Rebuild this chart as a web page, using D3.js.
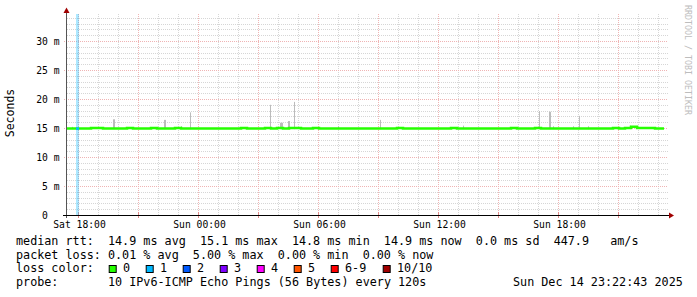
<!DOCTYPE html>
<html>
<head>
<meta charset="utf-8">
<script src="https://cdn.jsdelivr.net/npm/d3@7"></script>
<style>
html,body{margin:0;padding:0;background:#fff;}
svg{display:block;}
text{font-family:"DejaVu Sans Mono",monospace;white-space:pre;}
</style>
</head>
<body>
<svg id="chart" width="697" height="297"></svg>
<script>
// ---------------- data ----------------
// time window (local time)
const startTime = new Date(2025, 11, 13, 17, 27);
const endTime = new Date(2025, 11, 14, 23, 30);
const refTime = new Date(2025, 11, 13, 18, 0);      // hours below are offsets from Sat 18:00
const dataEndHours = 29.3;

// median rtt (ms), one value every 0.3 h starting at -0.55 h
const medianStartHours = -0.55;
const medianStepHours = 0.3;
const medianValues = [
  14.9,14.9,14.9,14.9,15.0,15.0,14.9,14.9,14.9,14.9,
  15.0,14.9,14.9,14.9,15.0,14.9,14.9,14.9,15.0,14.9,
  14.9,14.9,14.9,14.9,14.9,14.9,14.9,14.9,14.9,15.0,
  14.9,14.9,14.9,15.0,14.9,15.0,14.9,15.0,15.0,14.9,
  14.9,15.0,14.9,14.9,14.9,14.9,14.9,14.9,14.9,14.9,
  14.9,14.9,14.9,14.9,14.9,15.0,14.9,14.9,14.9,14.9,
  14.9,14.9,14.9,14.9,15.0,14.9,14.9,14.9,14.9,14.9,
  14.9,14.9,14.9,14.9,15.0,14.9,14.9,14.9,15.0,14.9,
  14.9,14.9,14.9,14.9,14.9,14.9,14.9,14.9,14.9,14.9,
  14.9,15.0,14.9,15.0,15.2,15.0,15.0,15.0,14.9,14.9
];

// smoke (max rtt of the pings) spikes: hours offset, max ms
const smokeHours = [-0.3, 1.75, 1.8, 4.3, 4.35, 5.15, 5.6, 9.6, 10.1, 10.15, 10.2, 10.5, 10.55, 10.8,
                    13.0, 15.1, 19.25, 23.05, 23.55, 23.6, 23.75, 24.75, 25.05, 25.5, 27.6];
const smokeMax =   [15.2, 16.5, 16.5, 16.4, 16.4, 15.3, 17.7, 19.0, 15.9, 15.9, 15.9, 16.2, 16.2, 19.5,
                    15.3, 16.4, 15.4, 17.9, 17.8, 17.8, 15.3, 15.3, 17.1, 15.3, 15.4];
const smokeMin = 14.8;
const smokeStepHours = 0.05;

// packet loss events
const lossHours = [-0.1];
const lossSpanHours = [0.15];
const lossCounts = [1];

// axis ticks
const yMax = 34.655;
const yMajorTicks = [0, 5, 10, 15, 20, 25, 30];
const xLabelHours = [0, 6, 12, 18, 24];

// legend
const lossLabels = ["0", "1", "2", "3", "4", "5", "6-9", "10/10"];
const lossColors = ["#26ff00", "#00b8ff", "#0059ff", "#7e00ff", "#ff00ff", "#ff5500", "#ff0000", "#a00000"];
const legendRow1 = "median rtt:  14.9 ms avg  15.1 ms max  14.8 ms min  14.9 ms now  0.0 ms sd  447.9   am/s";
const legendRow2 = "packet loss: 0.01 % avg  5.00 % max  0.00 % min  0.00 % now";
const legendRow3Title = "loss color:";
const probeTitle = "probe:";
const probeText = "10 IPv6-ICMP Echo Pings (56 Bytes) every 120s";
const dateText = "Sun Dec 14 23:22:43 2025";
const yTitle = "Seconds";
const creditText = "RRDTOOL / TOBI OETIKER";

// ---------------- drawing ----------------
const H = h => new Date(refTime.getTime() + h * 3600 * 1000);
const svg = d3.select("#chart");
const pLeft = 67, pRight = 668, pTop = 14, pBottom = 215;

const x = d3.scaleTime().domain([startTime, endTime]).range([pLeft, pRight]);
const y = d3.scaleLinear().domain([0, yMax]).range([pBottom, pTop]);

svg.append("rect").attr("width", 697).attr("height", 297).attr("fill", "#fff");

// grid
const minorCol = "#d6d6d6", majorCol = "#efb4b4";
const grid = svg.append("g");
const minorY = d3.range(1, 35).filter(v => v % 5 !== 0);
grid.selectAll(".hmin").data(minorY).join("line")
  .attr("x1", pLeft).attr("x2", pRight)
  .attr("y1", d => Math.round(y(d)) + 0.5).attr("y2", d => Math.round(y(d)) + 0.5)
  .attr("stroke", minorCol).attr("stroke-dasharray", "1,1");
const hourTicks = d3.timeHour.range(startTime, endTime);
grid.selectAll(".vmin").data(hourTicks.filter(d => d.getHours() % 3 !== 0)).join("line")
  .attr("x1", d => Math.round(x(d)) + 0.5).attr("x2", d => Math.round(x(d)) + 0.5)
  .attr("y1", pTop).attr("y2", pBottom)
  .attr("stroke", minorCol).attr("stroke-dasharray", "1,1");
grid.selectAll(".hmaj").data(yMajorTicks.filter(v => v > 0)).join("line")
  .attr("x1", pLeft - 3).attr("x2", pRight)
  .attr("y1", d => Math.round(y(d)) + 0.5).attr("y2", d => Math.round(y(d)) + 0.5)
  .attr("stroke", majorCol).attr("stroke-dasharray", "1,1");
const majX = hourTicks.filter(d => d.getHours() % 3 === 0);
grid.selectAll(".vmaj").data(majX).join("line")
  .attr("x1", d => Math.round(x(d)) + 0.5).attr("x2", d => Math.round(x(d)) + 0.5)
  .attr("y1", pTop).attr("y2", pBottom + 2)
  .attr("stroke", majorCol).attr("stroke-dasharray", "1,1");
grid.selectAll(".vtick").data(majX).join("line")
  .attr("x1", d => Math.round(x(d)) + 0.5).attr("x2", d => Math.round(x(d)) + 0.5)
  .attr("y1", pBottom - 3).attr("y2", pBottom + 3)
  .attr("stroke", "#e08a8a");

// loss bars
lossHours.forEach((h, i) => {
  svg.append("rect")
    .attr("x", x(H(h))).attr("width", x(H(h + lossSpanHours[i])) - x(H(h)))
    .attr("y", pTop).attr("height", pBottom - pTop)
    .attr("fill", lossColors[lossCounts[i]]).attr("fill-opacity", 0.32);
});

// smoke
svg.append("g").selectAll("rect").data(smokeHours).join("rect")
  .attr("x", d => x(H(d)))
  .attr("width", d => x(H(d + smokeStepHours)) - x(H(d)))
  .attr("y", (d, i) => y(smokeMax[i]))
  .attr("height", (d, i) => y(smokeMin) - y(smokeMax[i]))
  .attr("fill", "#bcbcbc");

// median line
const medPts = medianValues.map((v, i) => [H(medianStartHours + i * medianStepHours), v]);
medPts.push([H(dataEndHours), medianValues[medianValues.length - 1]]);
svg.append("path")
  .attr("d", d3.line().x(d => x(d[0])).y(d => y(d[1])).curve(d3.curveStepAfter)(medPts))
  .attr("fill", "none").attr("stroke", lossColors[0]).attr("stroke-width", 2.5);

// median during loss
lossHours.forEach((h, i) => {
  const idx = Math.floor((h - medianStartHours) / medianStepHours);
  const v = medianValues[idx];
  svg.append("rect")
    .attr("x", x(H(h))).attr("width", x(H(h + lossSpanHours[i])) - x(H(h)))
    .attr("y", y(v) - 1.25).attr("height", 2.5)
    .attr("fill", lossColors[lossCounts[i]]);
});

// axes lines
svg.append("line").attr("x1", 66.5).attr("x2", 66.5).attr("y1", 12).attr("y2", 218)
  .attr("stroke", "#555");
svg.append("line").attr("x1", 63).attr("x2", 670).attr("y1", 215.5).attr("y2", 215.5)
  .attr("stroke", "#000");
svg.append("path").attr("d", "M669,212.5 L674,215.5 L669,218.5 Z").attr("fill", "#a00000");
svg.append("path").attr("d", "M63.5,13 L66.5,7.5 L69.5,13 Z").attr("fill", "#a00000");

// y axis labels
const yAxis = d3.axisLeft(y).tickValues(yMajorTicks).tickSize(0).tickPadding(7)
  .tickFormat(d => d === 0 ? "0\u00a0\u00a0" : d + " m");
const gy = svg.append("g").attr("transform", "translate(66.5,0)").call(yAxis);
gy.select(".domain").remove();
gy.selectAll("text").attr("font-family", "DejaVu Sans Mono").attr("font-size", "9.7px")
  .attr("fill", "#000").attr("dy", "3.5px");

// x axis labels
const xAxis = d3.axisBottom(x).tickValues(xLabelHours.map(H)).tickSize(0).tickPadding(6.6)
  .tickFormat(d3.timeFormat("%a %H:%M"));
const gx = svg.append("g").attr("transform", "translate(1,215)").call(xAxis);
gx.select(".domain").remove();
gx.selectAll("text").attr("font-family", "DejaVu Sans Mono").attr("font-size", "9.7px").attr("fill", "#000");

// y title
svg.append("text").attr("transform", "translate(13.5,113) rotate(-90)")
  .attr("text-anchor", "middle").attr("font-size", "11.5px").attr("fill", "#000").text(yTitle);

// credit
svg.append("text").attr("transform", "translate(685,5) rotate(90)")
  .attr("font-size", "8.6px").attr("fill", "#bdbdbd")
  .attr("textLength", 110).attr("lengthAdjust", "spacingAndGlyphs").text(creditText);

// legend
const fs = "11.75px";
const lg = svg.append("g").attr("font-size", fs).attr("fill", "#000");
lg.append("text").attr("x", 16).attr("y", 244.8).text(legendRow1);
lg.append("text").attr("x", 16).attr("y", 258.6).text(legendRow2);
lg.append("text").attr("x", 16).attr("y", 272.4).text(legendRow3Title);
let lx = 108.7;
lossLabels.forEach((lab, i) => {
  lg.append("rect").attr("x", lx + 0.5).attr("y", 265.5).attr("width", 7).attr("height", 7)
    .attr("fill", lossColors[i]).attr("stroke", "#000").attr("stroke-width", 1);
  lg.append("text").attr("x", lx + 14.3).attr("y", 272.4).text(lab);
  lx += 29.5 + 7.5 * lab.length;
});
lg.append("text").attr("x", 16).attr("y", 286.3).text(probeTitle);
lg.append("text").attr("x", 108).attr("y", 286.3).text(probeText);
lg.append("text").attr("x", 513).attr("y", 286.3).text(dateText);
</script>
</body>
</html>
